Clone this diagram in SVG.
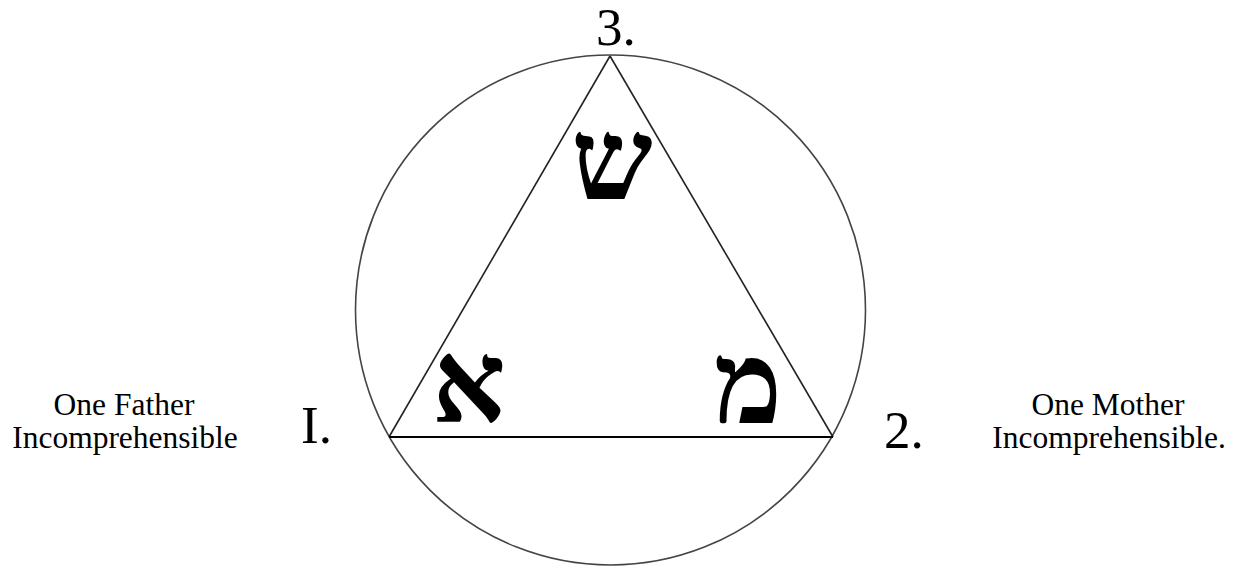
<svg xmlns="http://www.w3.org/2000/svg" width="1241" height="567" viewBox="0 0 1241 567">
<style>
.lbl{font-family:"Liberation Serif","Times New Roman",serif;fill:#000}
.num{font-size:53px}
.cap{font-size:31.5px;text-anchor:middle}
.heb{font-family:"Liberation Serif","DejaVu Serif",serif;font-weight:bold;font-size:115px;text-anchor:middle;fill:#000}
</style>
<rect width="1241" height="567" fill="#fff"/>
<g id="circle"><circle cx="610.5" cy="310" r="255" fill="none" stroke="#444" stroke-width="1.6"/></g>
<g id="connectors" fill="none" stroke="#222" stroke-width="1.6">
<line x1="610" y1="56" x2="389" y2="437"/>
<line x1="610" y1="56" x2="833" y2="437"/>
<line x1="389" y1="437" x2="833" y2="437" stroke="#000" stroke-width="2"/>
</g>
<g id="node-shin"><text class="heb" x="612" y="200">ש</text></g>
<g id="node-aleph"><text class="heb" x="469" y="422">א</text></g>
<g id="node-mem"><text class="heb" x="748" y="423">מ</text></g>
<g id="label-3"><text class="lbl num" x="596" y="45">3.</text></g>
<g id="label-1"><text class="lbl num" x="301" y="443">I.</text></g>
<g id="label-2"><text class="lbl num" x="884" y="448">2.</text></g>
<g id="father"><text class="lbl cap" x="124" y="415">One Father</text><text class="lbl cap" x="125" y="448">Incomprehensible</text></g>
<g id="mother"><text class="lbl cap" x="1108" y="415">One Mother</text><text class="lbl cap" x="1109" y="448">Incomprehensible.</text></g>
</svg>
